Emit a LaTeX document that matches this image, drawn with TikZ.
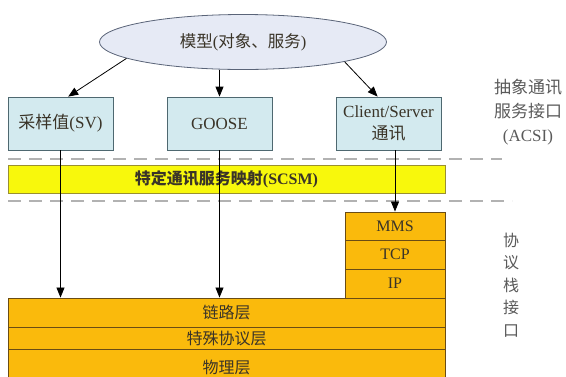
\documentclass[tikz,border=0pt]{standalone}
\usepackage{fontspec}
\setmainfont{Liberation Serif}
\newfontfamily\cjk{Noto Sans CJK SC}
\usetikzlibrary{shapes.geometric,arrows.meta}
\definecolor{modelfill}{HTML}{E6EAF5}
\definecolor{modelline}{HTML}{5A6478}
\definecolor{boxfill}{HTML}{D3EAEF}
\definecolor{boxline}{HTML}{4E6870}
\definecolor{mapfill}{HTML}{F8F80C}
\definecolor{mapline}{HTML}{9A9030}
\definecolor{layerfill}{HTML}{FABA0C}
\definecolor{layerline}{HTML}{6A4C14}
\definecolor{inktext}{HTML}{3A3428}
\definecolor{sidetext}{HTML}{5A5A5A}
\newcommand{\layercell}[6]{\node[layer,minimum width={#4pt-#2pt},minimum height={#5pt-#3pt}] (#1) at ({(#2+#4)/2},{(#3+#5)/2}) {#6};}
\tikzset{
  model/.style={ellipse,draw=modelline,fill=modelfill,line width=0.8pt,minimum width=287pt,minimum height=55pt,inner sep=0pt,text=inktext,font=\fontsize{16.5}{20}\selectfont},
  service/.style={rectangle,draw=boxline,fill=boxfill,line width=0.8pt,minimum width=105pt,minimum height=53pt,inner sep=0pt,align=center,text=inktext,font=\fontsize{17}{22}\selectfont},
  mapbox/.style={rectangle,draw=mapline,fill=mapfill,line width=0.8pt,minimum width=437pt,minimum height=28pt,inner sep=0pt,text=inktext,font=\fontsize{16}{20}\selectfont\bfseries},
  layer/.style={rectangle,draw=layerline,fill=layerfill,line width=0.9pt,inner sep=0pt,text=inktext,font=\fontsize{16}{18}\selectfont},
  sepline/.style={draw=gray!60,line width=1.3pt,dash pattern=on 13pt off 8pt},
  side/.style={align=center,text=sidetext,inner sep=0pt},
  arr/.style={-{Triangle[length=10pt,width=8pt]},line width=0.8pt}
}
\begin{document}
\begin{tikzpicture}[x=1pt,y=-1pt]
\useasboundingbox (0,0) rectangle (566,376);
% model and services
\node[model] (model) at (243,42) {{\cjk 模型}({\cjk 对象、服务})};
\node[service] (sv) at (60.5,123.5) {{\cjk 采样值}(SV)};
\node[service] (goose) at (219.5,123.5) {GOOSE};
\node[service] (cs) at (388.5,123.5) {Client/Server\\{\cjk 通讯}};
\draw[arr] (model.188) -- (sv.74);
\draw[arr] (model.south -| goose.north) -- (goose.north);
\draw[arr] (model.-11) -- (cs.112);
% mapping between the dashed lines
\coordinate (topl) at (8,159);
\coordinate (topr) at (502,159);
\coordinate (botl) at (8,201);
\coordinate (botr) at (512,201);
\draw[sepline] (topl) -- (topr);
\draw[sepline] (botl) -- (botr);
\node[mapbox] (scsm) at (226.5,179) {{\cjk 特定通讯服务映射}(SCSM)};
% stack for client/server
\layercell{mms}{345}{212}{445}{240}{MMS}
\layercell{tcp}{345}{240}{445}{269}{TCP}
\layercell{ip}{345}{269}{445}{298}{IP}
% shared layers
\layercell{link}{8}{298}{445}{327}{\cjk 链路层}
\layercell{spec}{8}{327}{445}{349}{\cjk 特殊协议层}
\layercell{phys}{8}{349}{445}{386}{\cjk 物理层}
% downward paths
\draw[arr] (sv.south) -- (sv.south |- link.north);
\draw[arr] (goose.south) -- (goose.south |- link.north);
\draw[arr] (cs.south -| mms.north) -- (mms.north);
% side labels
\node[side,font=\cjk\fontsize{17}{24}\selectfont] (acsi) at (528,112) {抽象通讯\\服务接口\\{\rmfamily(ACSI)}};
\node[side,font=\cjk\fontsize{16}{22.5}\selectfont] (psi) at (511,285) {协\\议\\栈\\接\\口};
\end{tikzpicture}
\end{document}
